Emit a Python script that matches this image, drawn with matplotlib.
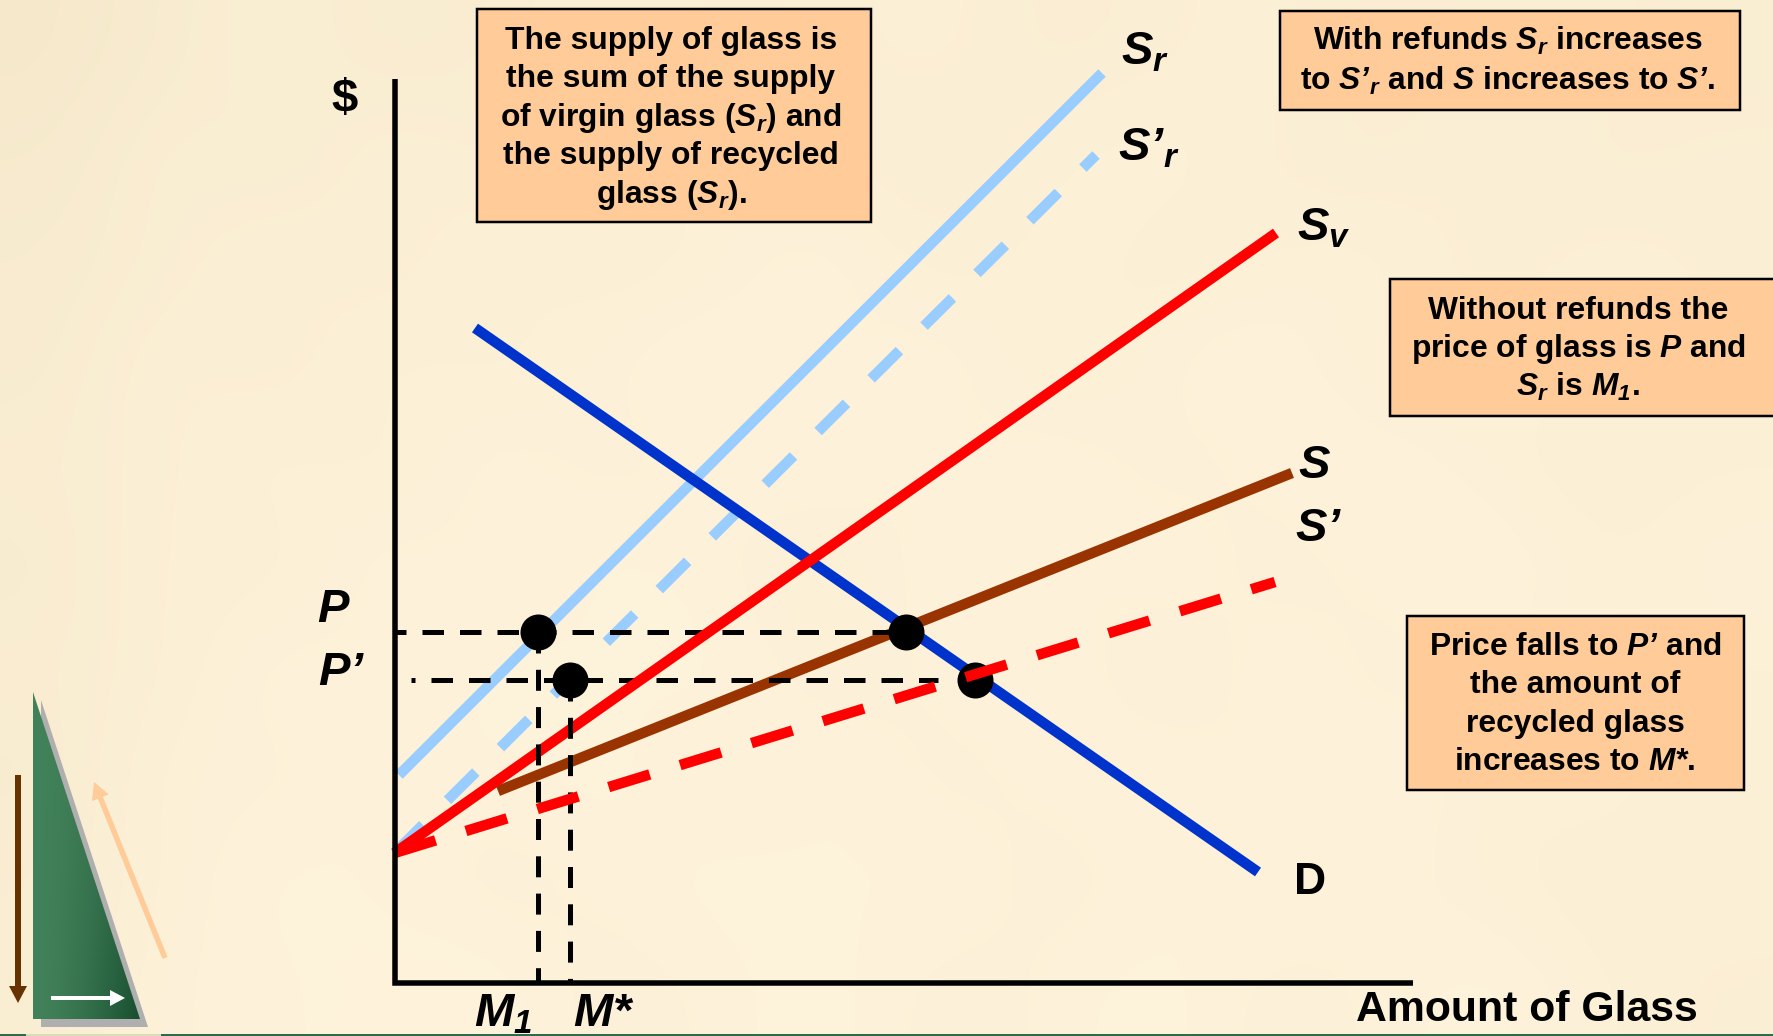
import numpy as np
import matplotlib
matplotlib.use("Agg")
import matplotlib.pyplot as plt
from matplotlib.patches import Polygon, Rectangle, FancyArrow

# all positions are in picture pixels (origin top left)
W = 1773
H = 1036
PX = 0.72  # one pixel in points at dpi 100

axis_x = [394.5, 394.5, 1413]
axis_y = [79, 982.7, 982.7]

sr_x = [399, 1102]
sr_y = [775, 73]
sr2_x = [394.5, 1096]
sr2_y = [853, 155]
sv_x = [394.5, 1276]
sv_y = [853, 233]
s_x = [498, 1292]
s_y = [791, 473]
s2_x = [394.5, 1275]
s2_y = [853, 582]
d_x = [475, 1258]
d_y = [328, 872]

p_level = 631.7
p2_level = 679.7
m1_level = 538
m2_level = 570
eq_x = [538, 570, 905.7, 975]
eq_y = [631.7, 679.7, 631.7, 679.7]

# slide background mottling, coarse grid of lightness offsets
mottle = np.array([
    [-5, -3, -1, -3, -2, 0, -2, -1, 0, -2, -1, 0, -2, -1, -1, -2],
    [-4, -1, -3, 0, -2, -1, 1, -1, -2, 0, 1, -1, -2, 0, -2, -1],
    [-3, -2, 0, -2, 1, -1, 0, 2, -1, 1, -1, 0, 1, -2, 0, -1],
    [-3, 0, -2, 1, -1, 1, 2, 0, 2, -1, 1, 2, -1, 0, 1, -1],
    [-2, -1, 1, -1, 2, 0, 1, 2, 0, 2, 0, 1, 2, 0, -1, 0],
    [-3, 0, -1, 2, 0, 2, 1, -1, 2, 0, 2, 0, 1, 2, 0, 1],
    [-2, -1, 2, 0, 2, 1, 2, 0, 1, 2, -1, 2, 0, 1, -1, 0],
    [-3, 1, 0, 2, 1, 2, 0, 2, 0, 1, 2, 0, 2, 0, 1, -1],
    [-2, 0, 2, 1, 0, 1, 2, 1, 2, 0, 1, 2, 1, 0, -1, 0],
    [-2, 1, 1, 2, 2, 0, 1, 2, 0, 1, 2, 0, 1, 2, 0, -1],
])

box_rects = [(477, 9, 394, 213), (1280, 11, 460, 99), (1389.5, 279, 400, 137), (1407, 616, 337, 174)]
box_centers = [671, 1508, 1578, 1575]
box_tops = [49, 50, 319, 655]
box_gaps = [38.4, 40, 38.4, 38.4]
box_lines = [
    ["The supply of glass is", "the sum of the supply", r"of virgin glass ($\mathcal{S_r}$) and",
     "the supply of recycled", r"glass ($\mathcal{S_r}$)."],
    [r"With refunds $\mathcal{S_r}$ increases", r"to $\mathcal{S’_r}$ and $\mathcal{S}$ increases to $\mathcal{S’}$."],
    ["Without refunds the", r"price of glass is $\mathcal{P}$ and", r"$\mathcal{S_r}$ is $\mathcal{M_1}$."],
    [r"Price falls to $\mathcal{P’}$ and", "the amount of", "recycled glass", r"increases to $\mathcal{M{*}}$."],
]

# label text, x, y
labels = [
    (r"$\mathcal{S_r}$", 1145, 64),
    (r"$\mathcal{S’_r}$", 1149, 160),
    (r"$\mathcal{S_v}$", 1324, 240),
    (r"$\mathcal{S}$", 1315, 478),
    (r"$\mathcal{S’}$", 1319, 541),
    (r"$\mathcal{P}$", 334, 622),
    (r"$\mathcal{P’}$", 342, 685),
    (r"$\mathcal{M_1}$", 503, 1026),
    (r"$\mathcal{M{*}}$", 604, 1026),
]

plt.rcParams['font.family'] = ['Liberation Sans', 'DejaVu Sans']
plt.rcParams['font.weight'] = 'bold'
plt.rcParams['mathtext.fontset'] = 'custom'
plt.rcParams['mathtext.rm'] = 'Liberation Sans:bold'
plt.rcParams['mathtext.it'] = 'Liberation Sans:italic:bold'
plt.rcParams['mathtext.bf'] = 'Liberation Sans:bold'
plt.rcParams['mathtext.cal'] = 'Liberation Sans:italic:bold'
plt.rcParams['mathtext.default'] = 'regular'
plt.rcParams['lines.scale_dashes'] = False

fig = plt.figure(figsize=(W / 100, H / 100), dpi=100)
ax = fig.add_axes([0, 0, 1, 1])
ax.set_xlim(0, W)
ax.set_ylim(H, 0)
ax.axis("off")

#Background
base = np.array([252, 240, 215]) / 255
tint = np.array([1.3, 1.5, 2.4]) / 255
bg = np.clip(base + mottle[..., None] * tint, 0, 1)
ax.imshow(bg, extent=(0, W, H, 0), interpolation="bicubic", aspect="auto", zorder=0)


def line(x, y, color, width=10.5, dash=None, offset=0, z=3):
    if dash is None:
        ax.plot(x, y, color=color, lw=width * PX, solid_capstyle="butt", solid_joinstyle="miter", zorder=z)
    else:
        on, off = dash
        ax.plot(x, y, color=color, lw=width * PX, dash_capstyle="butt",
                linestyle=(offset * PX, (on * PX, off * PX)), zorder=z)


#Supply and demand curves
line(sr_x, sr_y, "#99CCFF", z=2)
line(sr2_x, sr2_y, "#99CCFF", dash=(40, 34.7), z=2)
line(d_x, d_y, "#0033CC", z=2.2)
line(s_x, s_y, "#993300", z=2.4)

#Dashed guides
line([394.5, 905.7], [p_level, p_level], "black", width=5, dash=(21.5, 16), offset=10.5, z=2.6)
line([411, 937.6], [p2_level, p2_level], "black", width=5, dash=(21.5, 16), offset=17.5, z=2.6)
line(sv_x, sv_y, "#FF0000", z=2.8)
line([m1_level, m1_level], [p_level, 982], "black", width=5, dash=(21, 16.3), z=3)
line([m2_level, m2_level], [p2_level, 982], "black", width=5, dash=(21, 16.3), z=3)

#Equilibrium dots
ax.scatter(eq_x, eq_y, s=(36 * PX) ** 2, color="black", linewidths=0, zorder=4)
line(s2_x, s2_y, "#FF0000", dash=(43, 31.7), z=5)
line(axis_x, axis_y, "black", width=5.5, z=6)

#Text boxes
for rect, cx, top, gap, lines in zip(box_rects, box_centers, box_tops, box_gaps, box_lines):
    ax.add_patch(Rectangle(rect[:2], rect[2], rect[3], facecolor="#FFCC99", edgecolor="black",
                           lw=2.5 * PX, zorder=7))
    for i, txt in enumerate(lines):
        ax.text(cx, top + i * gap, txt, ha="center", va="baseline", fontsize=22.9,
                fontweight="bold", zorder=8)

#Labels
for txt, x, y in labels:
    ax.text(x, y, txt, ha="center", va="baseline", fontsize=34, fontweight="bold", zorder=8)
ax.text(345, 112, "$", parse_math=False, ha="center", va="baseline", fontsize=34, fontweight="bold", zorder=8)
ax.text(1310, 894, "D", ha="center", va="baseline", fontsize=32, fontweight="bold", zorder=8)
ax.text(1527, 1021, "Amount of Glass", ha="center", va="baseline", fontsize=30.8, fontweight="bold", zorder=8)

#Slide decoration
ax.add_patch(Polygon([(41, 700), (148, 1027), (41, 1027)], facecolor="#AFAFAF", edgecolor="none", zorder=1))
tri = Polygon([(33, 692), (140, 1019), (33, 1019)], facecolor="none", edgecolor="none", zorder=1.2)
ax.add_patch(tri)
u, v = np.meshgrid(np.linspace(0, 1, 60), np.linspace(0, 1, 120))
t = (u ** 1.5 * (0.35 + 0.65 * v))[..., None]
shade = (np.array([66, 130, 90]) * (1 - t) + np.array([24, 78, 48]) * t) / 255
im = ax.imshow(shade, extent=(33, 140, 1019, 692), interpolation="bilinear", aspect="auto", zorder=1.1)
im.set_clip_path(tri)
ax.set_xlim(0, W)
ax.set_ylim(H, 0)
ax.add_patch(FancyArrow(18, 775, 0, 228, width=6, head_width=18, head_length=17,
                        length_includes_head=True, color="#663300", lw=0, zorder=2))
ax.add_patch(FancyArrow(165, 958, -71, -176, width=5.5, head_width=18, head_length=17,
                        length_includes_head=True, color="#FFCC99", lw=0, zorder=2))
ax.add_patch(FancyArrow(51, 998, 74, 0, width=4, head_width=16, head_length=15,
                        length_includes_head=True, color="white", lw=0, zorder=2))
ax.add_patch(Rectangle((0, 1034), W, 2, facecolor="#2F6B4A", edgecolor="none", zorder=2))
ax.add_patch(Rectangle((26, 1034), 135, 2, facecolor="#D8DDB8", edgecolor="none", zorder=2.1))

fig.savefig("out.png", dpi=100)
